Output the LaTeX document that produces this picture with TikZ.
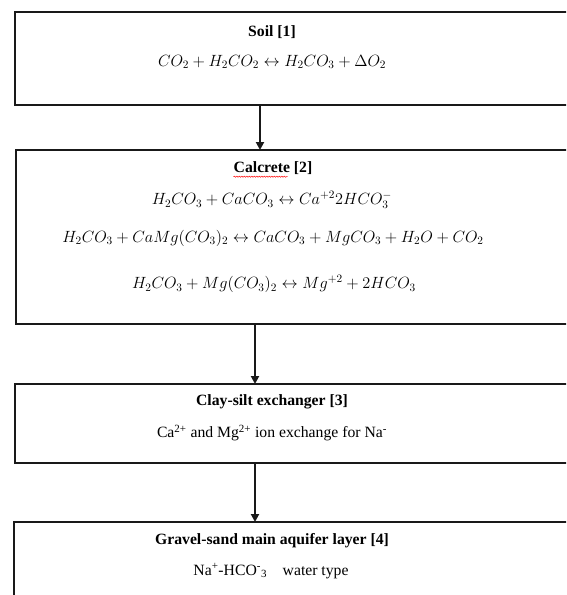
\documentclass[tikz,border=0pt]{standalone}
\usepackage{graphicx}
\usepackage{fontspec}
\setmainfont{Liberation Serif}
\usetikzlibrary{arrows.meta,decorations.pathmorphing}
\newcommand{\myeq}[1]{\scalebox{1.13}{\fontsize{14.4}{16}\selectfont$#1$}}
\tikzset{
  x=1pt,y=-1pt,
  box/.style={draw=black!90,line width=2pt,rectangle,anchor=north west,inner sep=0pt},
  ttl/.style={font=\fontsize{15.7}{17}\selectfont\bfseries,inner sep=0pt},
  eqn/.style={inner sep=0pt},
  txt/.style={font=\fontsize{15.7}{17}\selectfont,inner sep=0pt},
  arr/.style={draw=black!90,line width=2pt,-{Triangle[length=8pt,width=8pt]},shorten >=-1pt}
}
\begin{document}
\begin{tikzpicture}
\useasboundingbox (0,0) rectangle (566,595);
\clip (0,0) rectangle (566,595);
% boxes
\node[box,minimum width=620pt,minimum height=93pt] (b1) at (14,11) {};
\node[box,minimum width=620pt,minimum height=174pt] (b2) at (15,149) {};
\node[box,minimum width=620pt,minimum height=79pt] (b3) at (14,383) {};
\node[box,minimum width=620pt,minimum height=120pt] (b4) at (13,521) {};
% texts
\node[ttl] (t1) at (272,32) {Soil [1]};
\node[eqn] (e1) at (272,62) {\myeq{CO_2+H_2CO_2\leftrightarrow H_2CO_3+\Delta O_2}};
\node[ttl] (t2) at (273,168) {Calcrete [2]};
\node[eqn] (e21) at (272,200) {\myeq{H_2CO_3+CaCO_3\leftrightarrow Ca^{+2}2HCO_3^{-}}};
\node[eqn] (e22) at (273,238) {\myeq{H_2CO_3+CaMg(CO_3)_2\leftrightarrow CaCO_3+MgCO_3+H_2O+CO_2}};
\node[eqn] (e23) at (274,284) {\myeq{H_2CO_3+Mg(CO_3)_2\leftrightarrow Mg^{+2}+2HCO_3}};
\node[ttl] (t3) at (272,402) {Clay-silt exchanger [3]};
\node[txt] (s3) at (272,433) {Ca\textsuperscript{2+} and Mg\textsuperscript{2+} ion exchange for Na\textsuperscript{-}};
\node[ttl] (t4) at (272,541) {Gravel-sand main aquifer layer [4]};
\node[txt] (s4) at (271,571) {Na\textsuperscript{+}-HCO\textsuperscript{-}\textsubscript{3}\quad water type};
% spell-check underline
\draw[red,line width=0.5pt,decorate,decoration={snake,amplitude=0.6pt,segment length=2.5pt}]
  ([yshift=-2pt]t2.south west) -- ([xshift=-25pt,yshift=-2pt]t2.south east);
% arrows
\coordinate (a1) at (260,0);
\coordinate (a2) at (255,0);
\draw[arr] (b1.south -| a1) -- (b2.north -| a1);
\draw[arr] (b2.south -| a2) -- (b3.north -| a2);
\draw[arr] (b3.south -| a2) -- (b4.north -| a2);
\end{tikzpicture}
\end{document}
